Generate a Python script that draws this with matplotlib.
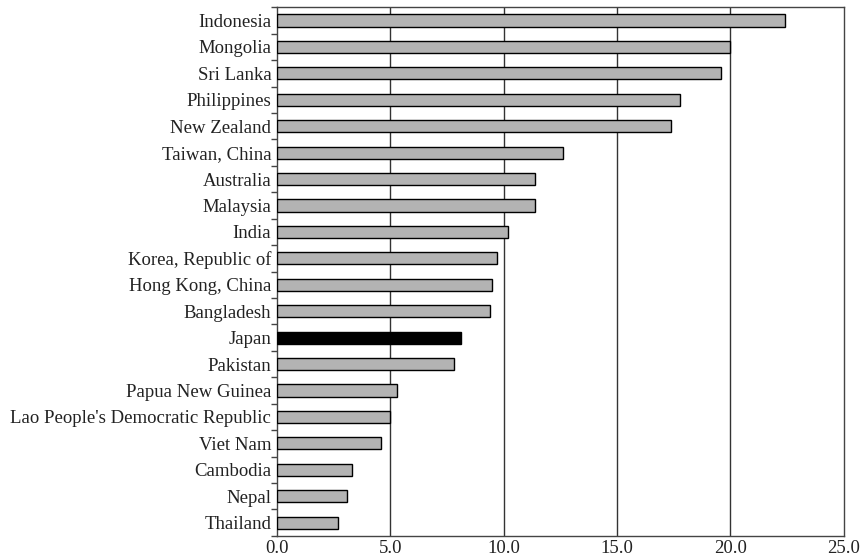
import matplotlib.pyplot as plt
import numpy as np

plt.rcParams['font.family'] = ['Liberation Serif', 'DejaVu Serif']

# data, top to bottom as shown
countries = ['Indonesia', 'Mongolia', 'Sri Lanka', 'Philippines', 'New Zealand',
             'Taiwan, China', 'Australia', 'Malaysia', 'India', 'Korea, Republic of',
             'Hong Kong, China', 'Bangladesh', 'Japan', 'Pakistan', 'Papua New Guinea',
             "Lao People's Democratic Republic", 'Viet Nam', 'Cambodia', 'Nepal', 'Thailand']
values = [22.4, 20.0, 19.6, 17.8, 17.4, 12.6, 11.4, 11.4, 10.2, 9.7,
          9.5, 9.4, 8.1, 7.8, 5.3, 5.0, 4.6, 3.3, 3.1, 2.7]
highlight = 'Japan'

fig = plt.figure(figsize=(8.6, 5.57), dpi=100)
ax = fig.add_axes([0.322, 0.038, 0.659, 0.949])

y = np.arange(len(countries))[::-1]
colors = ['black' if c == highlight else '#b3b3b3' for c in countries]
ax.barh(y, values, height=0.46, color=colors, edgecolor='black', linewidth=1, zorder=3)

ax.set_xlim(0, 25)
ax.set_ylim(-0.5, len(countries) - 0.5)
ax.set_xticks([0, 5, 10, 15, 20, 25])
ax.set_xticklabels(['0.0', '5.0', '10.0', '15.0', '20.0', '25.0'])
ax.set_yticks(y)
ax.set_yticklabels(countries)
ax.set_yticks(np.arange(-0.5, len(countries)), minor=True)

ax.tick_params(axis='y', which='major', length=0, pad=4, labelsize=13.5, colors='#222222')
ax.tick_params(axis='y', which='minor', length=4, width=1, direction='out', color='#444444')
ax.tick_params(axis='x', length=0, pad=3, labelsize=13.5, colors='#222222')

for xv in [5, 10, 15, 20]:
    ax.axvline(xv, color='#333333', linewidth=1, zorder=1)

for s in ax.spines.values():
    s.set_color('#444444')
    s.set_linewidth(1)

plt.savefig('out.png', dpi=100, facecolor='white')
